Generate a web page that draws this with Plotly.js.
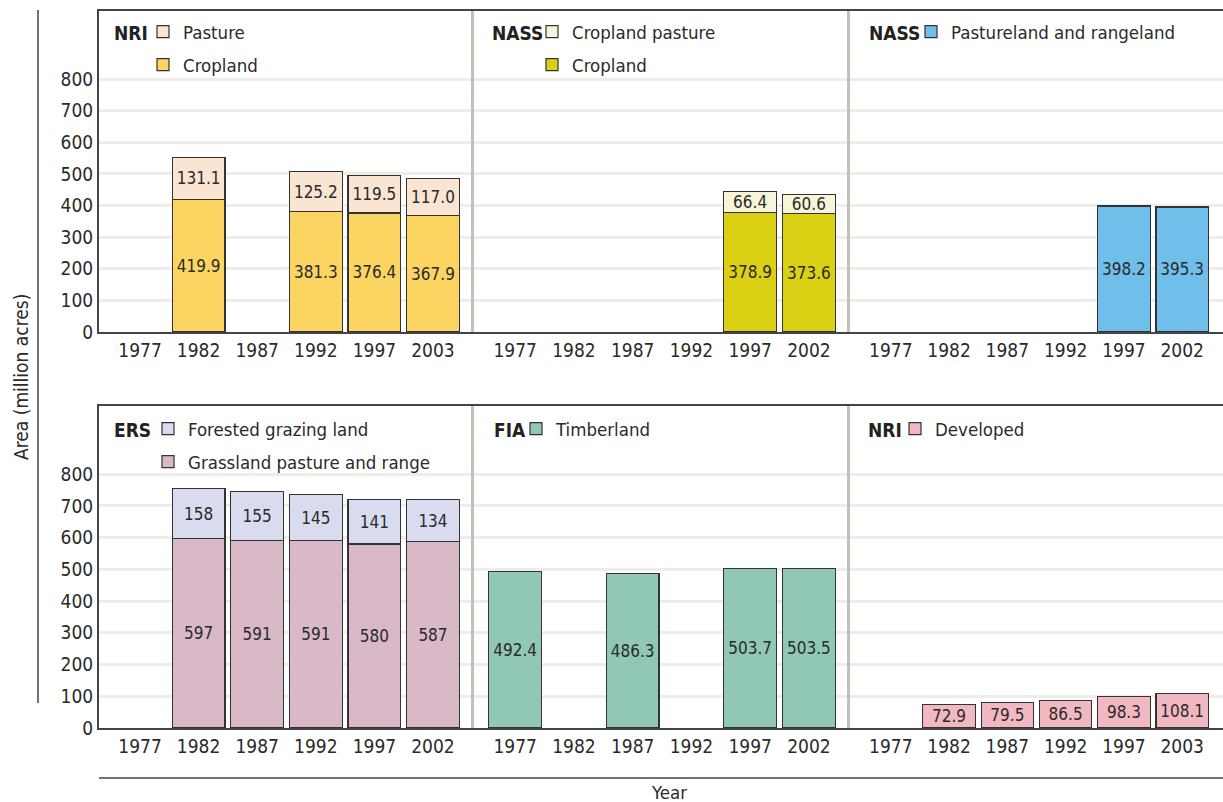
<!DOCTYPE html>
<html>
<head>
<meta charset="utf-8">
<script src="https://cdn.plot.ly/plotly-3.0.1.min.js"></script>
<style>html,body{margin:0;padding:0;background:#fff;}#chart{width:1223px;height:802px;}</style>
</head>
<body>
<div id="chart"></div>
<script>
// ---------- data ----------
const yearsNRI = ['1977','1982','1987','1992','1997','2003'];
const yearsNASS = ['1977','1982','1987','1992','1997','2002'];
const yearsERS = ['1977','1982','1987','1992','1997','2002'];
const yearsFIA = ['1977','1982','1987','1992','1997','2002'];
const yearsDev = ['1977','1982','1987','1992','1997','2003'];

const nriCropland = [null, 419.9, null, 381.3, 376.4, 367.9];
const nriPasture  = [null, 131.1, null, 125.2, 119.5, 117.0];
const nassCropland = [null, null, null, null, 378.9, 373.6];
const nassCroplandPasture = [null, null, null, null, 66.4, 60.6];
const nassPastureRange = [null, null, null, null, 398.2, 395.3];
const ersGrassland = [null, 597, 591, 591, 580, 587];
const ersForested  = [null, 158, 155, 145, 141, 134];
const fiaTimberland = [492.4, null, 486.3, null, 503.7, 503.5];
const nriDeveloped = [null, 72.9, 79.5, 86.5, 98.3, 108.1];

const yTicks = [0,100,200,300,400,500,600,700,800];
const panelSources = ['NRI','NASS','NASS','ERS','FIA','NRI'];

// ---------- style ----------
const FONT = "'Liberation Sans Narrow','Arial Narrow','DejaVu Sans Condensed',sans-serif";
const TXT = '#2a2a2a';
const outline = {color:'#333333', width:1.2};

function bar(x, y, name, color, xa, ya, leg, fmt, rank){
  return {
    type:'bar', x:x, y:y, name:name, xaxis:xa, yaxis:ya, legend:leg,
    legendgroup:name+xa, legendrank:rank,
    marker:{color:color, line:outline},
    width:0.9,
    texttemplate: fmt, textposition:'inside', insidetextanchor:'middle', textangle:0,
    constraintext:'none', cliponaxis:false,
    textfont:{family:FONT, size:17, color:TXT},
    hoverinfo:'x+y+name'
  };
}

const data = [
  bar(yearsNRI, nriCropland, 'Cropland', '#fbd462', 'x', 'y', 'legend', '%{y:.1f}', 2),
  bar(yearsNRI, nriPasture, 'Pasture', '#fae5d3', 'x', 'y', 'legend', '%{y:.1f}', 1),
  bar(yearsNASS, nassCropland, 'Cropland', '#dcd015', 'x2', 'y2', 'legend2', '%{y:.1f}', 2),
  bar(yearsNASS, nassCroplandPasture, 'Cropland pasture', '#f7f5d8', 'x2', 'y2', 'legend2', '%{y:.1f}', 1),
  bar(yearsNASS, nassPastureRange, 'Pastureland and rangeland', '#6fbfea', 'x3', 'y3', 'legend3', '%{y:.1f}', 1),
  bar(yearsERS, ersGrassland, 'Grassland pasture and range', '#d9b8c8', 'x4', 'y4', 'legend4', '%{y}', 2),
  bar(yearsERS, ersForested, 'Forested grazing land', '#d9dcee', 'x4', 'y4', 'legend4', '%{y}', 1),
  bar(yearsFIA, fiaTimberland, 'Timberland', '#90c8b4', 'x5', 'y5', 'legend5', '%{y:.1f}', 1),
  bar(yearsDev, nriDeveloped, 'Developed', '#f2b8c2', 'x6', 'y6', 'legend6', '%{y:.1f}', 1)
];

// ---------- layout ----------
const W = 1223, H = 802, ML = 99, MR = 0, MT = 11, MB = 74;
const PW = W - ML - MR, PH = H - MT - MB;
const px = v => (v - ML) / PW;          // pixel x -> paper
const py = v => (H - MB - v) / PH;      // pixel y -> paper

const colDom = [[0,px(474)],[px(474),px(850)],[px(850),1]];
const rowDom = [[py(332),1],[0,py(406)]];
const yRange = [0,1015];
const xRange = [-0.7,5.7];

function xax(cats, col, anchor){
  return {
    type:'category', categoryorder:'array', categoryarray:cats,
    domain:colDom[col], anchor:anchor, range:xRange,
    showline:true, linecolor:'#444', linewidth:2, mirror:true,
    showgrid:false, ticks:'', zeroline:false,
    tickfont:{family:FONT, size:19, color:TXT}, fixedrange:true
  };
}
function yax(col, row, anchor){
  const first = col===0;
  return {
    domain:rowDom[row], anchor:anchor, range:yRange,
    tickvals:yTicks, showticklabels:first, ticks:'',
    showline:true, linecolor: first ? '#444' : '#c3c0b8', linewidth: first ? 2 : 3,
    showgrid:true, gridcolor:'#eeede7', gridwidth:3, zeroline:false,
    tickfont:{family:FONT, size:19, color:TXT}, fixedrange:true
  };
}
// legend: text start pixel x, first row center pixel y
function leg(textX, rowY){
  return {
    x:px(textX - 40), y:py(rowY - 20), xanchor:'left', yanchor:'top', orientation:'v',
    traceorder:'grouped', bgcolor:'rgba(0,0,0,0)', borderwidth:0,
    font:{family:FONT, size:18.5, color:TXT},
    itemclick:false, itemdoubleclick:false, tracegroupgap:6
  };
}
function srcLabel(text, x, y){
  return {text:'<b>'+text+'</b>', xref:'paper', yref:'paper', x:px(x), y:py(y),
    xanchor:'left', yanchor:'middle', showarrow:false,
    font:{family:FONT, size:19, color:'#222'}};
}

const layout = {
  width:W, height:H,
  margin:{l:ML, r:MR, t:MT, b:MB},
  paper_bgcolor:'#ffffff', plot_bgcolor:'rgba(0,0,0,0)',
  barmode:'stack', showlegend:true,
  font:{family:FONT, size:19, color:TXT},
  xaxis:xax(yearsNRI,0,'y'),
  xaxis2:xax(yearsNASS,1,'y2'),
  xaxis3:xax(yearsNASS,2,'y3'),
  xaxis4:xax(yearsERS,0,'y4'),
  xaxis5:xax(yearsFIA,1,'y5'),
  xaxis6:xax(yearsDev,2,'y6'),
  yaxis:yax(0,0,'x'),
  yaxis2:yax(1,0,'x2'),
  yaxis3:yax(2,0,'x3'),
  yaxis4:yax(0,1,'x4'),
  yaxis5:yax(1,1,'x5'),
  yaxis6:yax(2,1,'x6'),
  legend:leg(183,33),
  legend2:leg(572,33),
  legend3:leg(951,33),
  legend4:leg(188,430),
  legend5:leg(556,430),
  legend6:leg(935,430),
  annotations:[
    srcLabel(panelSources[0],112,33),
    srcLabel(panelSources[1],490,33),
    srcLabel(panelSources[2],867,33),
    srcLabel(panelSources[3],112,430),
    srcLabel(panelSources[4],492,430),
    srcLabel(panelSources[5],866,430),
    {text:'Area (million acres)', xref:'paper', yref:'paper', x:px(21), y:py(377),
     xanchor:'center', yanchor:'middle',
     textangle:-90, showarrow:false, font:{family:FONT, size:19, color:TXT}},
    {text:'Year', xref:'paper', yref:'paper', x:px(669), y:py(792),
     xanchor:'center', yanchor:'middle',
     showarrow:false, font:{family:FONT, size:18.5, color:TXT}}
  ],
  shapes:[
    {type:'line', xref:'paper', yref:'paper', x0:px(38), x1:px(38), y0:py(703), y1:py(10),
     line:{color:'#444', width:1.5}},
    {type:'line', xref:'paper', yref:'paper', x0:0, x1:1, y0:py(778), y1:py(778),
     line:{color:'#444', width:1.5}}
  ]
};

Plotly.newPlot('chart', data, layout, {displayModeBar:false, staticPlot:true});
</script>
</body>
</html>
